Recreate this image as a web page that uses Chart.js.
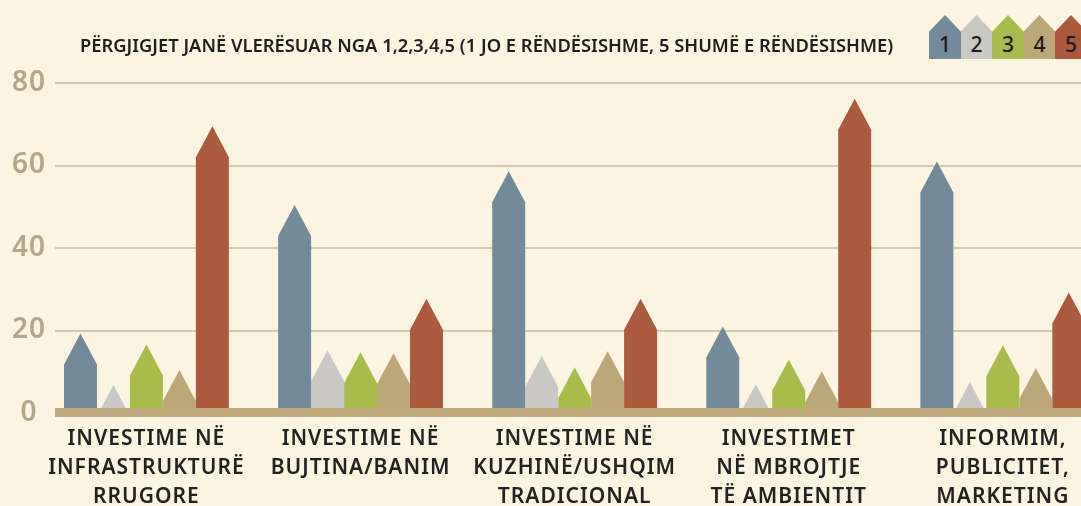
<!DOCTYPE html>
<html>
<head>
<meta charset="utf-8">
<script src="https://cdn.jsdelivr.net/npm/chart.js@4.4.1/dist/chart.umd.min.js"></script>
<style>
  html, body { margin: 0; padding: 0; background: #faf4e1; overflow: hidden; }
  #wrap { position: relative; width: 1081px; height: 506px; }
  #title {
    position: absolute; left: 80px; top: 36px; white-space: nowrap;
    font-family: "Noto Sans", sans-serif; font-weight: 600; font-size: 17px;
    color: #1e1e1e; transform-origin: 0 0; line-height: 20px;
  }
  #legend { position: absolute; left: 929px; top: 15px; height: 44px; }
  .house {
    position: absolute; top: 0; width: 32px; height: 44px;
    clip-path: polygon(50% 0, 100% 38%, 100% 100%, 0 100%, 0 38%);
    font-family: "Noto Sans", sans-serif; font-size: 21px; font-weight: 500; color: #1c1c1c;
    text-align: center; line-height: 21px;
  }
  .house span { position: absolute; left: 0; right: 0; top: 19px; }
</style>
</head>
<body>
<div id="wrap">
  <canvas id="chart" width="1081" height="506"></canvas>
  <div id="title">PËRGJIGJET JANË VLERËSUAR NGA 1,2,3,4,5 (1 JO E RËNDËSISHME, 5 SHUMË E RËNDËSISHME)</div>
  <div id="legend"></div>
</div>
<script>
// categories and values
const categories = [
  ['INVESTIME NË', 'INFRASTRUKTURË', 'RRUGORE'],
  ['INVESTIME NË', 'BUJTINA/BANIM'],
  ['INVESTIME NË', 'KUZHINË/USHQIM', 'TRADICIONAL'],
  ['INVESTIMET', 'NË MBROJTJE', 'TË AMBIENTIT'],
  ['INFORMIM,', 'PUBLICITET,', 'MARKETING']
];
const ratingLabels = ['1', '2', '3', '4', '5'];
const rating1 = [19.3, 50.4, 58.6, 21.0, 61.0];
const rating2 = [6.8, 15.2, 13.8, 7.0, 7.5];
const rating3 = [16.6, 14.7, 11.1, 13.0, 16.4];
const rating4 = [10.4, 14.5, 15.0, 10.1, 10.9];
const rating5 = [69.5, 27.7, 27.7, 76.2, 29.2];
const yTicks = [0, 20, 40, 60, 80];

const colors = ['#738a9a', '#c9c8c4', '#a9bc4b', '#bca778', '#ab5a3d'];
const series = [rating1, rating2, rating3, rating4, rating5];

// title squeezed to the width it has in the picture
const title = document.getElementById('title');
title.style.transform = 'scaleX(' + (813 / title.scrollWidth) + ')';

// legend: small houses with the rating number inside
const legend = document.getElementById('legend');
ratingLabels.forEach((lab, i) => {
  const h = document.createElement('div');
  h.className = 'house';
  h.style.left = (i * 31.5) + 'px';
  h.style.background = colors[i];
  h.innerHTML = '<span>' + lab + '</span>';
  legend.appendChild(h);
});

const ROOF = 31; // height of the pointed top, px

// draws every bar as a little house: pointed roof with the apex at the value
const housePlugin = {
  id: 'houses',
  beforeDraw(chart) {
    // wider letters for the category labels
    chart.ctx.letterSpacing = '1px';
  },
  beforeDatasetsDraw(chart) {
    chart.ctx.letterSpacing = '0px';
  },
  beforeDatasetDraw(chart, args) {
    const ctx = chart.ctx;
    const ds = chart.data.datasets[args.index];
    ctx.save();
    ctx.fillStyle = ds.backgroundColor;
    args.meta.data.forEach((bar) => {
      const { x, y, base, width } = bar.getProps(['x', 'y', 'base', 'width'], true);
      const half = width / 2;
      const slope = half / ROOF;
      const h = base - y;
      ctx.beginPath();
      ctx.moveTo(x, y);
      if (h <= ROOF) {
        ctx.lineTo(x + h * slope, base);
        ctx.lineTo(x - h * slope, base);
      } else {
        ctx.lineTo(x + half, y + ROOF);
        ctx.lineTo(x + half, base);
        ctx.lineTo(x - half, base);
        ctx.lineTo(x - half, y + ROOF);
      }
      ctx.closePath();
      ctx.fill();
    });
    ctx.restore();
    return false;
  },
  afterDatasetsDraw(chart) {
    // thick ground line
    const ctx = chart.ctx;
    const y0 = chart.scales.y.getPixelForValue(0);
    ctx.save();
    ctx.fillStyle = '#bfa97c';
    ctx.fillRect(chart.chartArea.left, y0 - 5, chart.chartArea.right - chart.chartArea.left, 9);
    ctx.restore();
  }
};

const ctx = document.getElementById('chart').getContext('2d');
new Chart(ctx, {
  type: 'bar',
  data: {
    datasets: series.map((vals, i) => ({
      label: ratingLabels[i],
      data: vals.map((v, j) => ({ x: j, y: v })),
      backgroundColor: colors[i],
      barPercentage: 1,
      categoryPercentage: 0.77
    }))
  },
  plugins: [housePlugin],
  options: {
    responsive: false,
    animation: false,
    layout: { padding: { top: 83, left: 0, right: 0, bottom: 0 } },
    plugins: {
      legend: { display: false },
      tooltip: { enabled: false },
      title: { display: false }
    },
    scales: {
      x: {
        type: 'linear',
        offset: false,
        min: -0.427,
        max: 4.365,
        grid: { display: false },
        border: { display: false },
        afterBuildTicks: (scale) => {
          scale.ticks = categories.map((c, i) => ({ value: i }));
        },
        afterFit: (scale) => { scale.height = 93; },
        ticks: {
          autoSkip: false,
          maxRotation: 0,
          padding: 3,
          color: '#222222',
          font: { family: 'Noto Sans', size: 21, weight: '600', lineHeight: 1.4 },
          callback: (value) => categories[value]
        }
      },
      y: {
        min: 0,
        max: 80,
        afterBuildTicks: (scale) => {
          scale.ticks = yTicks.map((v) => ({ value: v }));
        },
        afterFit: (scale) => { scale.width = 55; },
        grid: { color: '#d3cab2', lineWidth: 2, drawTicks: false },
        border: { display: false },
        ticks: {
          padding: 10,
          crossAlign: 'center',
          color: '#b3a788',
          font: { family: 'Noto Sans', size: 28, weight: '600' }
        }
      }
    }
  }
});
</script>
</body>
</html>
